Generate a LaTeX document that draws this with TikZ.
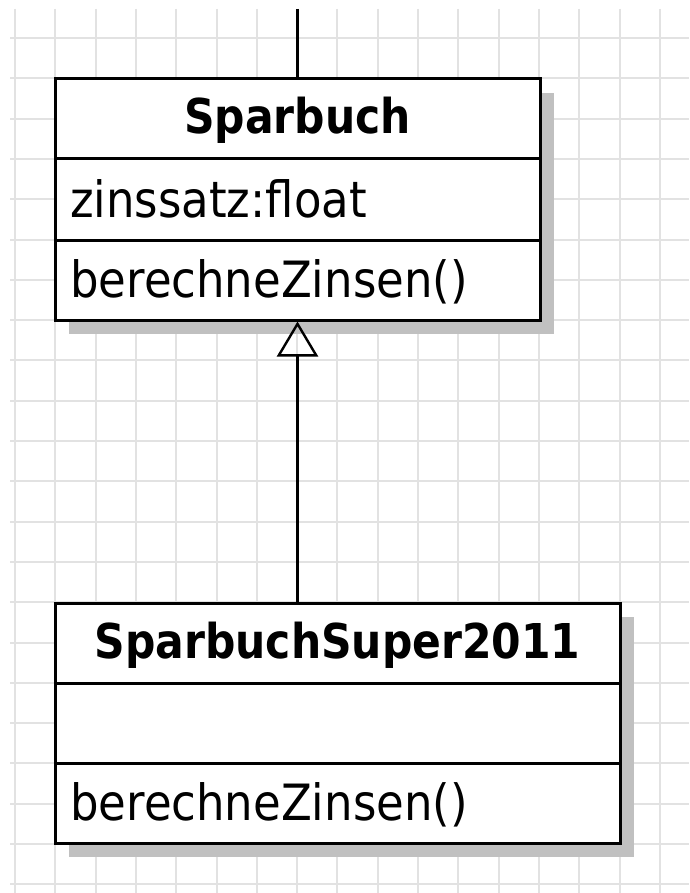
\documentclass[tikz,border=0pt]{standalone}
\usepackage{fontspec}
\usetikzlibrary{arrows.meta}
\newfontfamily\umlbody{DejaVu Sans}[FakeStretch=0.9]
\newfontfamily\umlhead{DejaVu Sans}[FakeStretch=0.885]
\definecolor{gridgray}{HTML}{E2E2E2}
\definecolor{shadowgray}{HTML}{C0C0C0}
\tikzset{
  x=1pt, y=-1pt,
  compartment/.style={draw=black, line width=3pt, fill=white, inner sep=0pt},
  classshadow/.style={fill=shadowgray, draw=none},
  classname/.style={inner sep=0pt, anchor=base, font=\umlhead\bfseries\fontsize{48}{56}\selectfont},
  member/.style={inner sep=0pt, anchor=base west, font=\umlbody\fontsize{50}{60}\selectfont},
  relation/.style={line width=2.6pt},
  generalization/.style={relation, -{Triangle[open, length=35pt, width=41pt, line width=2.4pt]}}
}
\begin{document}
\begin{tikzpicture}
  \useasboundingbox (0,0) rectangle (689,893);
  \fill[white] (0,0) rectangle (689,893);

  % background grid
  \begin{scope}
    \clip (10,9) rectangle (689,893);
    \foreach \i in {0,...,17}
      \draw[gridgray, line width=2pt] ({15+40.3*\i},9) -- ({15+40.3*\i},893);
    \foreach \j in {0,...,21}
      \draw[gridgray, line width=2pt] (10,{38+40.3*\j}) -- (689,{38+40.3*\j});
  \end{scope}

  % drop shadows
  \fill[classshadow] (69,93) rectangle (554,334);
  \fill[classshadow] (69,617) rectangle (634,857);

  % class Sparbuch
  \node[compartment, minimum width=485pt, minimum height=80pt] (spHead) at (297.5,119) {};
  \node[compartment, minimum width=485pt, minimum height=81pt] (spAttr) at (297.5,199.5) {};
  \node[compartment, minimum width=485pt, minimum height=80pt] (spOps)  at (297.5,280) {};
  \node[classname] (spName) at (297.5,134) {Sparbuch};
  \node[member] (spZins) at (70,218) {zinssatz:float};
  \node[member] (spCalc) at (70,297) {berechneZinsen()};

  % class SparbuchSuper2011
  \node[compartment, minimum width=565pt, minimum height=80pt] (ssHead) at (337.5,643) {};
  \node[compartment, minimum width=565pt, minimum height=80pt] (ssAttr) at (337.5,723) {};
  \node[compartment, minimum width=565pt, minimum height=80pt] (ssOps)  at (337.5,803) {};
  \node[classname] (ssName) at (337.5,658) {SparbuchSuper2011};
  \node[member] (ssCalc) at (70,820) {berechneZinsen()};

  % association leaving the top
  \coordinate (topEnd) at (297.5,9);
  \draw[relation] (topEnd) -- (spHead.north);

  % inheritance, straight up into the superclass
  \draw[generalization] (spOps.south |- ssHead.north) -- (spOps.south);
\end{tikzpicture}
\end{document}
